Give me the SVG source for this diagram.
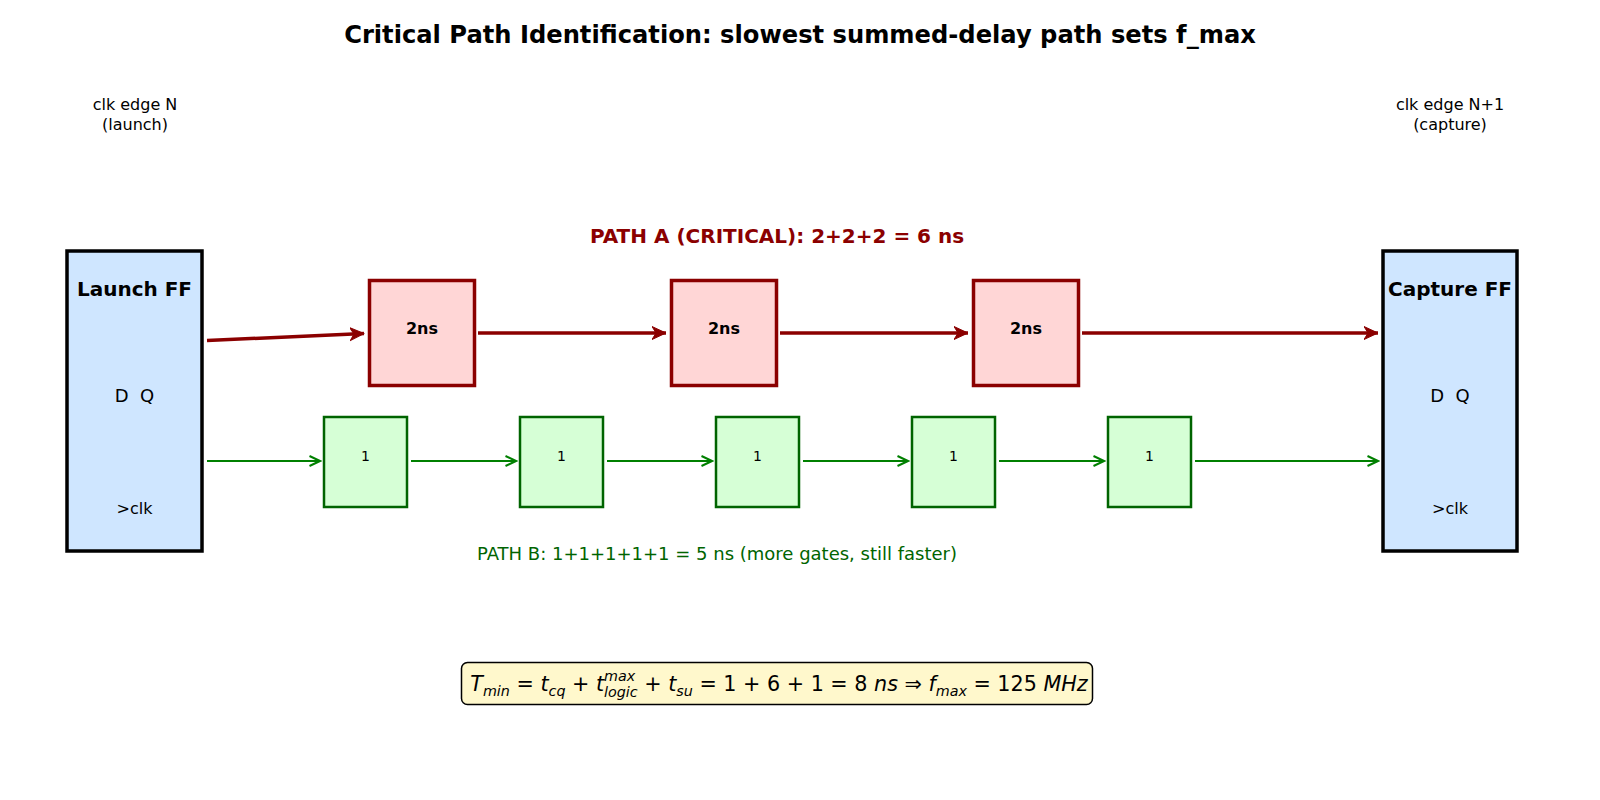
<svg xmlns="http://www.w3.org/2000/svg" width="1600" height="800" viewBox="0 0 1600 800">
<defs>
<style>
text{font-family:"DejaVu Sans","Liberation Sans",sans-serif;text-anchor:middle;dominant-baseline:central;}
.ff{fill:#cfe6ff;stroke:#000;stroke-width:3.5;}
.red{fill:#ffd6d6;stroke:#8b0000;stroke-width:3.5;}
.grn{fill:#d6ffd6;stroke:#006400;stroke-width:2.5;}
.ra{stroke:#8b0000;stroke-width:3.5;fill:none;marker-end:url(#ah-red);}
.ga{stroke:#008000;stroke-width:2;fill:none;marker-end:url(#ah-grn);}
</style>
<marker id="ah-red" markerUnits="userSpaceOnUse" markerWidth="18" markerHeight="18" refX="14" refY="9" orient="auto" viewBox="0 0 18 18">
<path d="M0,2.5 L14,9 L0,15.5 L4,9 Z" fill="#8b0000" stroke="#8b0000" stroke-width="1" stroke-linejoin="round"/>
</marker>
<marker id="ah-grn" markerUnits="userSpaceOnUse" markerWidth="14" markerHeight="14" refX="12" refY="7" orient="auto" viewBox="0 0 14 14">
<path d="M1.5,2 L12,7 L1.5,12" fill="none" stroke="#008000" stroke-width="2"/>
</marker>
</defs>
<rect width="1600" height="800" fill="#fff"/>
<text x="800" y="35" font-size="24.2" font-weight="bold">Critical Path Identification: slowest summed-delay path sets f_max</text>
<text x="135" y="104" font-size="16">clk edge N</text>
<text x="135" y="124" font-size="16">(launch)</text>
<text x="1450" y="104" font-size="16">clk edge N+1</text>
<text x="1450" y="124" font-size="16">(capture)</text>
<text x="777" y="236" font-size="20" font-weight="bold" fill="#8b0000">PATH A (CRITICAL): 2+2+2 = 6 ns</text>
<g id="connectors">
<path class="ra" d="M207,340.5 L364,333.5"/>
<path class="ra" d="M478,333 L666,333"/>
<path class="ra" d="M780,333 L968,333"/>
<path class="ra" d="M1082,333 L1378,333"/>
<path class="ga" d="M207,461 L320,461"/>
<path class="ga" d="M411,461 L516,461"/>
<path class="ga" d="M607,461 L712,461"/>
<path class="ga" d="M803,461 L908,461"/>
<path class="ga" d="M999,461 L1104,461"/>
<path class="ga" d="M1195,461 L1378,461"/>
</g>
<g id="launch-ff">
<rect class="ff" x="67" y="251" width="135" height="300"/>
<text x="134.5" y="289" font-size="20" font-weight="bold">Launch FF</text>
<text x="134.5" y="395" font-size="18" xml:space="preserve">D  Q</text>
<text x="134.5" y="508" font-size="16">&gt;clk</text>
</g>
<g id="capture-ff">
<rect class="ff" x="1383" y="251" width="134" height="300"/>
<text x="1450" y="289" font-size="20" font-weight="bold">Capture FF</text>
<text x="1450" y="395" font-size="18" xml:space="preserve">D  Q</text>
<text x="1450" y="508" font-size="16">&gt;clk</text>
</g>
<g id="a1"><rect class="red" x="369.5" y="280.5" width="105" height="105"/><text x="422" y="328" font-size="16" font-weight="bold">2ns</text></g>
<g id="a2"><rect class="red" x="671.5" y="280.5" width="105" height="105"/><text x="724" y="328" font-size="16" font-weight="bold">2ns</text></g>
<g id="a3"><rect class="red" x="973.5" y="280.5" width="105" height="105"/><text x="1026" y="328" font-size="16" font-weight="bold">2ns</text></g>
<g id="b1"><rect class="grn" x="324" y="417" width="83" height="90"/><text x="365.5" y="456" font-size="14">1</text></g>
<g id="b2"><rect class="grn" x="520" y="417" width="83" height="90"/><text x="561.5" y="456" font-size="14">1</text></g>
<g id="b3"><rect class="grn" x="716" y="417" width="83" height="90"/><text x="757.5" y="456" font-size="14">1</text></g>
<g id="b4"><rect class="grn" x="912" y="417" width="83" height="90"/><text x="953.5" y="456" font-size="14">1</text></g>
<g id="b5"><rect class="grn" x="1108" y="417" width="83" height="90"/><text x="1149.5" y="456" font-size="14">1</text></g>
<text x="717" y="553" font-size="18" fill="#006400">PATH B: 1+1+1+1+1 = 5 ns (more gates, still faster)</text>
<g id="formula">
<rect x="461.5" y="662.5" width="631" height="42" rx="6" fill="#fff8cc" stroke="#000" stroke-width="1.5"/>
<text x="779" y="684" font-size="20.7" style="dominant-baseline:alphabetic" xml:space="preserve" dy="7"><tspan font-style="italic">T</tspan><tspan font-style="italic" font-size="14.3" dy="5">min</tspan><tspan dy="-5"> = </tspan><tspan font-style="italic">t</tspan><tspan font-style="italic" font-size="14.3" dy="5">cq</tspan><tspan dy="-5"> + </tspan><tspan font-style="italic">t</tspan><tspan font-style="italic" font-size="14.3" dy="-10">max</tspan><tspan font-style="italic" font-size="14.3" dx="-31.2" dy="16">logic</tspan><tspan dy="-6"> + </tspan><tspan font-style="italic">t</tspan><tspan font-style="italic" font-size="14.3" dy="5">su</tspan><tspan dy="-5"> = 1 + 6 + 1 = 8 </tspan><tspan font-style="italic">ns</tspan><tspan> ⇒ </tspan><tspan font-style="italic">f</tspan><tspan font-style="italic" font-size="14.3" dy="5">max</tspan><tspan dy="-5"> = 125 </tspan><tspan font-style="italic">MHz</tspan></text>
</g>
</svg>
